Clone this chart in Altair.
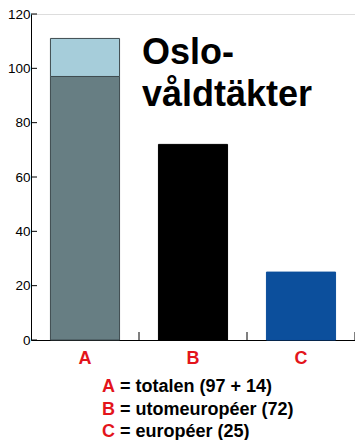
import altair as alt
import pandas as pd

# ---- data ----
categories = ["A", "B", "C"]
segment_cat = ["A", "A", "B", "C"]
segment_part = ["A-bas", "A-extra", "B", "C"]
segment_value = [97, 14, 72, 25]
segment_order = [0, 1, 0, 0]
segment_fill = ["#677e83", "#a6cdda", "#000000", "#0c4f9c"]
segment_stroke = ["#3e4b4f", "#3e4b4f", "#000000", "#0c4f9c"]
y_ticks = [0, 20, 40, 60, 80, 100, 120]
title_lines = ["Oslo-", "våldtäkter"]
caption_letters = ["A", "B", "C"]
caption_texts = ["= totalen (97 + 14)", "= utomeuropéer (72)", "= européer (25)"]

RED = "#e3141b"
FONT = "Liberation Sans"
W, H = 324, 326

df = pd.DataFrame({"cat": segment_cat, "part": segment_part,
                   "value": segment_value, "order": segment_order})

xscale = alt.Scale(domain=categories, paddingInner=0, paddingOuter=0)
yscale = alt.Scale(domain=[0, 120], nice=False)

bars = alt.Chart(df).mark_bar(width=alt.RelativeBandSize(0.64), strokeWidth=1).encode(
    x=alt.X("cat:N", scale=xscale, title=None,
            axis=alt.Axis(labelAngle=0, ticks=False, tickSize=0, labelPadding=18,
                          labelBaseline="middle", labelColor=RED, labelFontSize=18,
                          labelFont=FONT, labelFontWeight="bold",
                          domainColor="#000000", domainWidth=1, grid=False)),
    y=alt.Y("value:Q", stack="zero", scale=yscale, title=None,
            axis=alt.Axis(values=y_ticks, ticks=False, tickSize=0, labelPadding=1,
                          labelColor="#000000", labelFontSize=13.5, labelFont=FONT,
                          domainColor="#000000", domainWidth=1, grid=False)),
    color=alt.Color("part:N", scale=alt.Scale(domain=segment_part, range=segment_fill), legend=None),
    stroke=alt.Stroke("part:N", scale=alt.Scale(domain=segment_part, range=segment_stroke), legend=None),
    order=alt.Order("order:Q"),
)

# inward y ticks
ytick_df = pd.DataFrame({"v": y_ticks})
yticks = alt.Chart(ytick_df).mark_rule(color="#000000", strokeWidth=1).encode(
    y=alt.Y("v:Q", scale=yscale),
    x=alt.value(0), x2=alt.value(6),
)

# inward x ticks at band boundaries
xtick_df = pd.DataFrame({"cat": categories})
xticks = alt.Chart(xtick_df).mark_rule(color="#000000", strokeWidth=1).encode(
    x=alt.X("cat:N", scale=xscale, bandPosition=1),
    y=alt.value(H - 8), y2=alt.value(H),
)

layers = [bars, yticks, xticks]

# heading
for i, line in enumerate(title_lines):
    layers.append(
        alt.Chart(pd.DataFrame({"t": [line]})).mark_text(
            align="left", baseline="alphabetic", font=FONT, fontWeight="bold",
            fontSize=36, color="#000000"
        ).encode(text="t:N", x=alt.value(111), y=alt.value(49.5 + 42.5 * i))
    )

# caption
for i, (letter, txt) in enumerate(zip(caption_letters, caption_texts)):
    base_y = 378 + 22.5 * i
    layers.append(
        alt.Chart(pd.DataFrame({"t": [letter]})).mark_text(
            align="left", baseline="alphabetic", font=FONT, fontWeight="bold",
            fontSize=18, color=RED
        ).encode(text="t:N", x=alt.value(71), y=alt.value(base_y))
    )
    layers.append(
        alt.Chart(pd.DataFrame({"t": [txt]})).mark_text(
            align="left", baseline="alphabetic", font=FONT, fontWeight="bold",
            fontSize=18, color="#000000"
        ).encode(text="t:N", x=alt.value(89), y=alt.value(base_y))
    )

chart = alt.layer(*layers).properties(
    width=W, height=H,
    autosize=alt.AutoSizeParams(type="none"),
    padding={"left": 23, "top": 6, "right": 0, "bottom": 100},
).configure_view(stroke=None).configure(background="#ffffff")

chart.save("out.html", embed_options={"renderer": "svg", "actions": False})
